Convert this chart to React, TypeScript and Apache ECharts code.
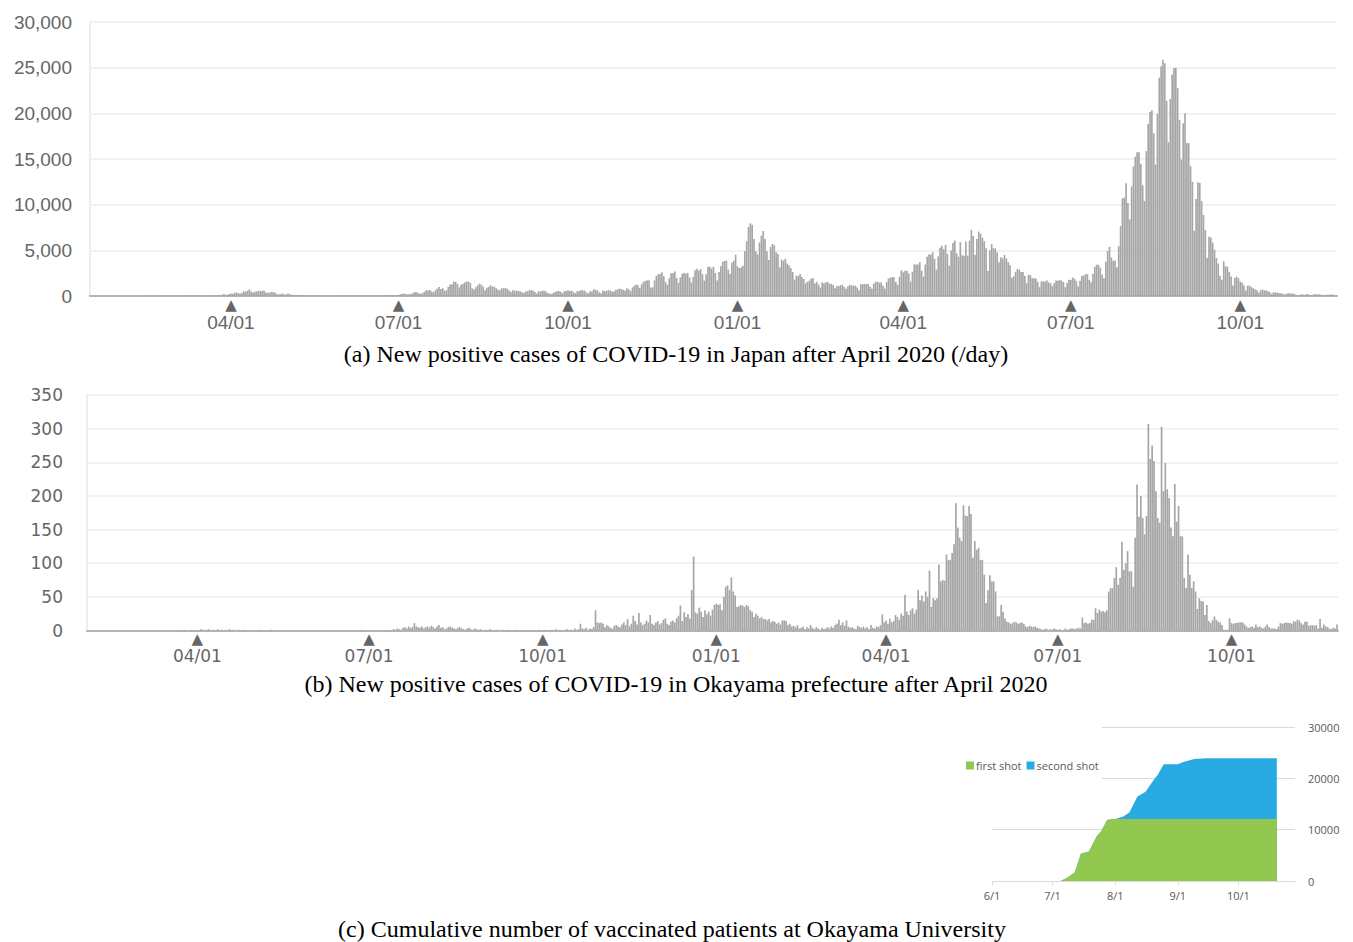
import React, { useEffect, useRef } from "react";
import * as echarts from "echarts";

// ---------- (a) Japan: new positive cases per day (first array starts 2020-01-16) ----------
const jp2020_01 = [1,0,0,0,0,0,0,1,1,0,2,1,1,1,2,5];
const jp2020_02 = [0,0,0,0,3,0,0,1,0,1,0,1,1,8,8,5,6,7,10,12,20,12,10,12,15,20,20,15,10];
const jp2020_03 = [14,10,14,25,33,30,49,30,26,52,54,50,45,60,35,12,40,40,30,40,60,40,40,70,65,96,110,200,170,90,220];
const jp2020_04 = [265,235,365,370,330,250,350,510,490,575,720,500,390,455,480,585,550,585,565,370,340,380,440,440,350,200,190,200,270,160];
const jp2020_05 = [165,265,200,120,120,90,80,90,120,90,50,80,60,60,95,60,20,30,30,35,25,25,20,15,20,25,30,30,50,40,35];
const jp2020_06 = [30,35,40,30,50,40,45,35,40,25,40,40,35,50,50,45,40,35,70,50,55,40,45,60,50,110,100,90,60,100];
const jp2020_07 = [120,190,240,270,200,180,200,215,360,430,410,300,240,300,460,620,590,660,510,420,620,800,980,780,840,600,610,1000,1260,1300,1580];
const jp2020_08 = [1540,1330,960,1240,1350,1480,1600,1560,1440,840,700,960,1170,1360,1230,1010,630,900,1010,1170,1030,1010,850,700,640,850,850,880,790,590,430];
const jp2020_09 = [630,590,580,560,510,400,340,500,540,620,650,580,440,270,510,500,560,590,480,340,270,220,320,450,520,550,470,310,520,560];
const jp2020_10 = [620,550,590,410,310,520,560,630,610,590,410,290,510,490,730,670,620,400,310,600,530,580,640,600,500,480,680,720,800,770,670];
const jp2020_11 = [600,860,730,550,950,1110,1250,1170,880,1280,1550,1660,1700,1720,930,950,1700,2200,2390,2420,2590,2170,1520,1230,1940,2500,2520,2680,1990,1430];
const jp2020_12 = [2030,2430,2520,2440,2530,2030,1490,2090,2810,2970,2780,2960,2400,1680,2390,3210,3210,2990,3200,2520,1700,2640,3270,3740,3830,3880,2900,2400,3640,3850,4520];
const jp2021_01 = [3260,3060,3130,3320,4920,6000,7570,7960,7790,6250,4890,4540,5870,6600,7120,6240,4900,3940,5370,5690,5560,4800,4590,3130,3990,3850,4080,3540,3370,3030,2640];
const jp2021_02 = [1790,2230,2190,2400,2070,1860,1380,1560,1670,1880,1980,1370,1530,1260,930,1480,1400,1510,1530,1340,1330,1200,850,1100,1080,1180,1220,990];
const jp2021_03 = [800,1080,1220,1160,1130,1120,930,620,1280,1320,1300,1320,1300,1000,790,1340,1540,1570,1470,1470,1120,820,1520,1920,2000,2080,2050,1540,1240,2120,2820];
const jp2021_04 = [2590,2760,2770,2470,1580,2650,3450,3450,3450,3700,2780,2100,3450,4310,4570,4530,4800,4090,2880,4330,5290,5500,5120,5600,4610,3310,4990,5790,6070,4680];
const jp2021_05 = [4300,5900,4470,4400,5960,4420,6060,7240,6560,4530,6230,7050,6820,6380,6000,5240,2740,5000,5700,5240,5200,4800,3700,4250,4100,4500,4120,3700,3370,2000,2150];
const jp2021_06 = [2640,2950,2890,2620,2620,2190,1410,2310,2290,1940,1940,1920,1550,970,1590,1620,1570,1700,1490,1400,1080,1400,1700,1670,1750,1670,1520,960,1420,1770];
const jp2021_07 = [1760,2030,1880,1620,1050,1670,2190,2240,2410,2380,1770,1500,2400,3200,3430,3420,3090,2330,1950,3760,4930,5380,4220,3860,3880,3140,5450,7650,10690,10780,12340];
const jp2021_08 = [10170,8380,12000,14200,15260,15750,15750,14470,12120,10390,15860,18850,20150,20350,17810,14380,19950,23900,25150,25870,25480,21370,16820,21560,24250,24960,24990,22750,19290,14950,18900];
const jp2021_09 = [20010,16740,16730,14210,12480,7130,10620,12450,12380,10390,8880,7220,4170,6500,6400,5860,5070,4160,3560,2220,1770,3800,3240,3210,2640,2130,1140,1990,2120,1950];
const jp2021_10 = [1580,1440,1140,600,1130,1130,970,860,750,640,370,610,720,620,620,510,430,230,390,410,350,340,290,270,150,250,300,280,280,250,160];
const jp2021_11 = [100,90,170,160,120,220,160,110,100,190,200,180,180,140,80,110,150,130,170,170,110,60];

// ---------- (b) Okayama: new positive cases per day (first array starts 2020-02-03) ----------
const ok2020_02 = [0,0,0,0,0,0,0,0,0,0,0,0,0,0,0,0,0,0,0,0,0,0,0,0,0,0,0];
const ok2020_03 = [0,0,0,0,0,0,0,0,0,0,0,0,0,0,0,0,0,0,0,0,0,1,0,0,1,0,0,0,1,0,0];
const ok2020_04 = [1,0,2,1,0,1,2,0,1,0,1,2,0,1,0,1,0,2,0,1,0,0,1,0,0,1,0,0,0,0];
const ok2020_05 = [0,0,0,1,0,0,0,0,0,1,0,0,0,0,0,0,0,0,0,0,0,0,0,0,0,0,0,0,0,0,0];
const ok2020_06 = [0,0,0,0,0,0,0,0,0,0,0,0,0,0,0,0,0,0,0,0,0,0,0,0,0,0,1,0,0,0];
const ok2020_07 = [0,0,0,0,0,0,0,0,0,0,0,1,0,2,1,3,2,1,4,5,3,6,4,5,11,6,5,4,6,3,5];
const ok2020_08 = [6,4,7,5,3,6,8,4,5,2,3,5,6,4,3,2,4,5,3,2,1,3,4,2,1,3,2,1,2,1,0];
const ok2020_09 = [1,0,2,1,0,0,1,0,0,1,0,0,1,0,0,0,1,0,0,0,0,1,0,0,0,1,0,0,1,0];
const ok2020_10 = [0,1,0,0,1,0,0,2,0,1,0,0,1,2,0,1,0,3,1,2,10,3,2,4,1,3,2,5,30,12,11];
const ok2020_11 = [12,10,5,8,6,4,3,7,8,6,5,9,12,8,17,6,10,22,14,9,26,12,8,10,15,12,23,10,8,12];
const ok2020_12 = [14,9,11,16,18,10,8,13,15,12,18,22,37,14,27,20,24,18,60,110,27,25,34,28,20,30,24,28,22,31,38];
const ok2021_01 = [40,38,39,30,50,65,67,60,79,58,52,35,36,38,37,35,38,36,30,28,20,25,22,18,20,17,17,15,17,12,14];
const ok2021_02 = [13,10,12,9,15,15,14,8,10,6,7,5,8,3,4,6,2,5,3,8,4,2,5,3,1,4,2,3];
const ok2021_03 = [5,3,6,4,8,10,16,8,12,7,15,6,4,5,3,2,7,5,4,6,3,5,2,8,4,3,6,5,8,24,12];
const ok2021_04 = [15,10,18,12,14,23,20,16,25,22,53,28,23,30,33,25,31,60,45,52,43,58,50,89,35,48,45,48,98,73];
const ok2021_05 = [75,74,113,105,105,115,128,189,153,138,133,186,171,170,185,173,108,133,120,123,105,105,83,41,60,82,73,73,58,21,21];
const ok2021_06 = [38,28,18,13,12,10,11,13,12,10,11,12,10,6,5,7,6,5,6,4,3,2,1,2,3,0,2,1,3,2];
const ok2021_07 = [1,2,0,1,3,1,2,3,3,2,3,4,3,19,11,12,10,11,16,16,33,26,31,28,29,27,30,58,63,63,78];
const ok2021_08 = [94,68,78,132,90,100,118,88,88,65,138,217,169,200,167,143,170,307,255,275,252,207,167,160,303,207,249,210,197,153,140];
const ok2021_09 = [218,162,185,140,140,78,63,113,83,63,73,58,32,48,44,43,23,38,14,11,15,21,16,13,12,8,1,1,1,18];
const ok2021_10 = [11,10,11,11,12,12,12,9,6,4,5,6,4,9,5,6,4,3,6,9,5,3,3,3,2,6,11,10,11,12,11];
const ok2021_11 = [11,10,14,13,16,15,11,9,13,13,7,8,8,7,8,3,17,4,9,6,5,3,2,4,3,9];

// ---------- (c) Okayama University: cumulative vaccinated (x = day number, 6/1 = 0) ----------
const vacDay = [34, 37, 41, 44, 48, 52, 54, 57, 59, 61, 65, 68, 72, 76, 80, 82, 85, 92, 95, 97, 100, 106, 141];
const firstShot = [0, 580, 1680, 5300, 5760, 8800, 9650, 11900, 12050, 12100, 12100, 12100, 12100, 12100, 12100, 12100, 12100, 12100, 12100, 12100, 12100, 12100, 12100];
const secondShot = [0, 0, 0, 0, 0, 0, 0, 0, 0, 0, 450, 1230, 4340, 5310, 7580, 8550, 10620, 10620, 11140, 11330, 11650, 11800, 11800];
const vacTickDays = [0, 30, 61, 92, 122];
const vacTickLabels = ["6/1", "7/1", "8/1", "9/1", "10/1"];

const quarterLabels = ["01/01", "04/01", "07/01", "10/01"];

type Month = [number, number, number, number[]];

const japanMonths: Month[] = [
  [2020, 1, 16, jp2020_01], [2020, 2, 1, jp2020_02], [2020, 3, 1, jp2020_03], [2020, 4, 1, jp2020_04],
  [2020, 5, 1, jp2020_05], [2020, 6, 1, jp2020_06], [2020, 7, 1, jp2020_07], [2020, 8, 1, jp2020_08],
  [2020, 9, 1, jp2020_09], [2020, 10, 1, jp2020_10], [2020, 11, 1, jp2020_11], [2020, 12, 1, jp2020_12],
  [2021, 1, 1, jp2021_01], [2021, 2, 1, jp2021_02], [2021, 3, 1, jp2021_03], [2021, 4, 1, jp2021_04],
  [2021, 5, 1, jp2021_05], [2021, 6, 1, jp2021_06], [2021, 7, 1, jp2021_07], [2021, 8, 1, jp2021_08],
  [2021, 9, 1, jp2021_09], [2021, 10, 1, jp2021_10], [2021, 11, 1, jp2021_11],
];

const okayamaMonths: Month[] = [
  [2020, 2, 3, ok2020_02], [2020, 3, 1, ok2020_03], [2020, 4, 1, ok2020_04], [2020, 5, 1, ok2020_05],
  [2020, 6, 1, ok2020_06], [2020, 7, 1, ok2020_07], [2020, 8, 1, ok2020_08], [2020, 9, 1, ok2020_09],
  [2020, 10, 1, ok2020_10], [2020, 11, 1, ok2020_11], [2020, 12, 1, ok2020_12],
  [2021, 1, 1, ok2021_01], [2021, 2, 1, ok2021_02], [2021, 3, 1, ok2021_03], [2021, 4, 1, ok2021_04],
  [2021, 5, 1, ok2021_05], [2021, 6, 1, ok2021_06], [2021, 7, 1, ok2021_07], [2021, 8, 1, ok2021_08],
  [2021, 9, 1, ok2021_09], [2021, 10, 1, ok2021_10], [2021, 11, 1, ok2021_11],
];

const pad = (n: number) => (n < 10 ? "0" + n : String(n));

function build(months: Month[]) {
  const cats: string[] = [];
  const vals: number[] = [];
  for (const [y, m, d0, arr] of months) {
    arr.forEach((v, i) => {
      cats.push(`${y}/${pad(m)}/${pad(d0 + i)}`);
      vals.push(v);
    });
  }
  return { cats, vals };
}

const japan = build(japanMonths);
const okayama = build(okayamaMonths);

const isQuarter = (_i: number, v: string) => quarterLabels.indexOf(v.slice(5)) >= 0;
const GREY = "#666666";

function dateAxis(gridIndex: number, cats: string[], font: string, fontSize: number, textLH: number) {
  return {
    type: "category",
    gridIndex,
    data: cats,
    boundaryGap: true,
    axisLine: { show: true, lineStyle: { color: "#b4b4b4", width: 2 } },
    axisTick: { show: false },
    splitLine: { show: false },
    axisLabel: {
      interval: isQuarter,
      margin: 2,
      formatter: (v: string) => `{t|▲}\n{l|${v.slice(5)}}`,
      rich: {
        t: { fontSize: 15, lineHeight: 13, color: GREY, fontFamily: "DejaVu Sans" },
        l: { fontSize, lineHeight: textLH, color: GREY, fontFamily: font },
      },
    },
  };
}

function valueAxis(gridIndex: number, max: number, interval: number, margin: number, font: string, fontSize: number) {
  return {
    type: "value",
    gridIndex,
    min: 0,
    max,
    interval,
    axisLine: { show: true, lineStyle: { color: "#eeeeee", width: 2 } },
    axisTick: { show: false },
    splitLine: { show: true, lineStyle: { color: "#eeeeee", width: 1.5 } },
    axisLabel: { margin, color: GREY, fontSize, fontFamily: font },
  };
}

export default function App() {
  const ref = useRef<HTMLDivElement>(null);

  useEffect(() => {
    const chart = echarts.init(ref.current!, undefined, { renderer: "svg" });
    const caption = (text: string, x: number, y: number) => ({
      type: "text",
      x,
      y,
      style: {
        text,
        fill: "#000",
        fontSize: 24,
        fontFamily: "Liberation Serif",
        align: "center",
        verticalAlign: "middle",
      },
    });
    const total = firstShot.map((f, i) => f + secondShot[i]);
    const option: any = {
      animation: false,
      backgroundColor: "#ffffff",
      grid: [
        { left: 90, top: 22, width: 1247, height: 274 },
        { left: 87, top: 395, width: 1251, height: 235.5 },
        { left: 992, top: 727, width: 303, height: 154 },
      ],
      xAxis: [
        dateAxis(0, japan.cats, "Liberation Sans", 19, 22),
        dateAxis(1, okayama.cats, "DejaVu Sans", 17, 20),
        {
          type: "value",
          gridIndex: 2,
          min: 0,
          max: 150,
          axisLine: { show: true, lineStyle: { color: "#d9d9d9", width: 1 } },
          axisTick: { show: true, length: 4, customValues: vacTickDays, lineStyle: { color: "#d9d9d9" } },
          splitLine: { show: false },
          axisLabel: {
            customValues: vacTickDays,
            margin: 9,
            color: "#595959",
            fontSize: 11,
            fontFamily: "Open Sans",
            formatter: (v: number) => vacTickLabels[vacTickDays.indexOf(v)] ?? "",
          },
        },
      ],
      yAxis: [
        valueAxis(0, 30000, 5000, 18, "Liberation Sans", 19),
        valueAxis(1, 350, 50, 24, "DejaVu Sans", 17),
        {
          type: "value",
          gridIndex: 2,
          position: "right",
          min: 0,
          max: 30000,
          interval: 10000,
          axisLine: { show: false },
          axisTick: { show: false },
          splitLine: { show: true, lineStyle: { color: "#d9d9d9", width: 1 } },
          axisLabel: {
            margin: 13,
            color: "#595959",
            fontSize: 11,
            fontFamily: "Open Sans",
            formatter: (v: number) => String(v),
          },
        },
      ],
      legend: {
        data: ["first shot", "second shot"],
        left: 961,
        top: 755,
        icon: "rect",
        itemWidth: 8,
        itemHeight: 8,
        itemGap: 5,
        z: 10,
        textStyle: { color: "#595959", fontSize: 11, fontFamily: "Open Sans", padding: [0, 0, 0, -3] },
      },
      graphic: [
        { type: "rect", z: 1, shape: { x: 945, y: 718, width: 157, height: 70 }, style: { fill: "#ffffff" } },
        caption("(a) New positive cases of COVID-19 in Japan after April 2020 (/day)", 676, 354),
        caption("(b) New positive cases of COVID-19 in Okayama prefecture after April 2020", 676, 684),
        caption("(c) Cumulative number of vaccinated patients at Okayama University", 672, 929),
      ],
      series: [
        {
          name: "Japan",
          type: "bar",
          xAxisIndex: 0,
          yAxisIndex: 0,
          data: japan.vals,
          barCategoryGap: "10%",
          itemStyle: { color: "#a6a6a6" },
        },
        {
          name: "Okayama",
          type: "bar",
          xAxisIndex: 1,
          yAxisIndex: 1,
          data: okayama.vals,
          barCategoryGap: "10%",
          itemStyle: { color: "#a6a6a6" },
        },
        {
          name: "second shot",
          type: "line",
          xAxisIndex: 2,
          yAxisIndex: 2,
          z: 2,
          symbol: "none",
          lineStyle: { width: 0 },
          itemStyle: { color: "#29abe2" },
          areaStyle: { color: "#29abe2", opacity: 1 },
          data: vacDay.map((d, i) => [d, total[i]]),
        },
        {
          name: "first shot",
          type: "line",
          xAxisIndex: 2,
          yAxisIndex: 2,
          z: 3,
          symbol: "none",
          lineStyle: { width: 0 },
          itemStyle: { color: "#92c84f" },
          areaStyle: { color: "#92c84f", opacity: 1 },
          data: vacDay.map((d, i) => [d, firstShot[i]]),
        },
      ],
    };
    chart.setOption(option);
    return () => chart.dispose();
  }, []);

  return (
    <div
      ref={ref}
      style={{ position: "absolute", left: 0, top: 0, width: 1353, height: 942, background: "#fff" }}
    />
  );
}
